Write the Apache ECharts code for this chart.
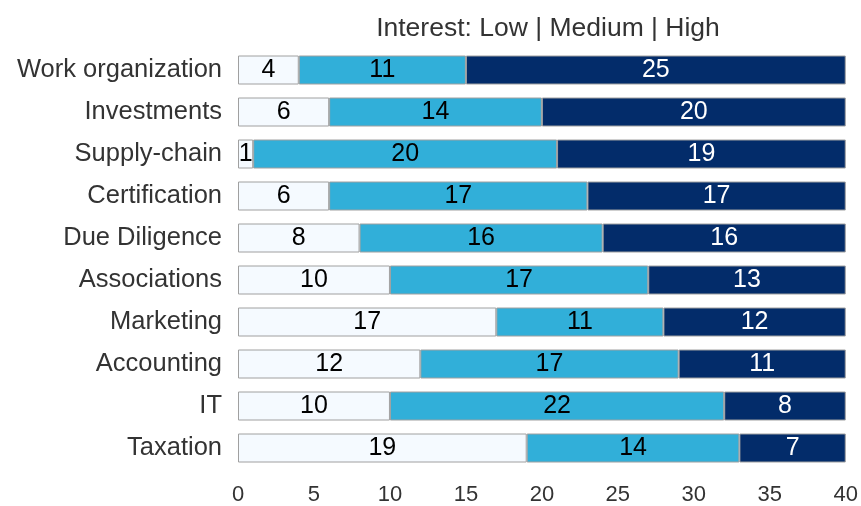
<!DOCTYPE html>
<html><head><meta charset="utf-8">
<script src="https://cdn.jsdelivr.net/npm/echarts@6/dist/echarts.min.js"></script>
<style>html,body{margin:0;padding:0;background:#fff}#c{width:861px;height:506px}</style>
</head><body><div id="c"></div>
<script>
const categories = ["Work organization","Investments","Supply-chain","Certification","Due Diligence","Associations","Marketing","Accounting","IT","Taxation"];
const lowValues = [4,6,1,6,8,10,17,12,10,19];
const mediumValues = [11,14,20,17,16,17,11,17,22,14];
const highValues = [25,20,19,17,16,13,12,11,8,7];
const xTicks = [0,5,10,15,20,25,30,35,40];

const chart = echarts.init(document.getElementById('c'));
const font = '"Liberation Sans", Arial, Helvetica, sans-serif';
function ser(name, data, color, labelColor) {
  return {
    name, type: 'bar', stack: 'total', data, barWidth: 29,
    itemStyle: { color, borderColor: '#a0a0a0', borderWidth: 1 },
    label: { show: true, position: 'inside', color: labelColor, fontSize: 25, fontFamily: font },
    emphasis: { disabled: true }
  };
}
chart.setOption({
  animation: false,
  title: { text: 'Interest: Low | Medium | High', left: 543, textAlign: 'center', top: 10,
    textStyle: { fontSize: 26.5, fontWeight: 'normal', color: '#333', fontFamily: font } },
  grid: { left: 238, right: 14, top: 49, bottom: 37 },
  xAxis: { type: 'value', min: 0, max: 40, interval: 5,
    axisLine: { show: false }, axisTick: { show: false }, splitLine: { show: false },
    axisLabel: { fontSize: 22, color: '#333', fontFamily: font, margin: 15,
      formatter: v => xTicks.includes(v) ? String(v) : '' } },
  yAxis: { type: 'category', data: categories, inverse: true,
    axisLine: { show: false }, axisTick: { show: false },
    axisLabel: { fontSize: 25.5, color: '#333', fontFamily: font, margin: 16 } },
  series: [
    ser('Low', lowValues, '#f5faff', '#000'),
    ser('Medium', mediumValues, '#31afd9', '#000'),
    ser('High', highValues, '#032c6a', '#fff')
  ]
});
</script></body></html>
